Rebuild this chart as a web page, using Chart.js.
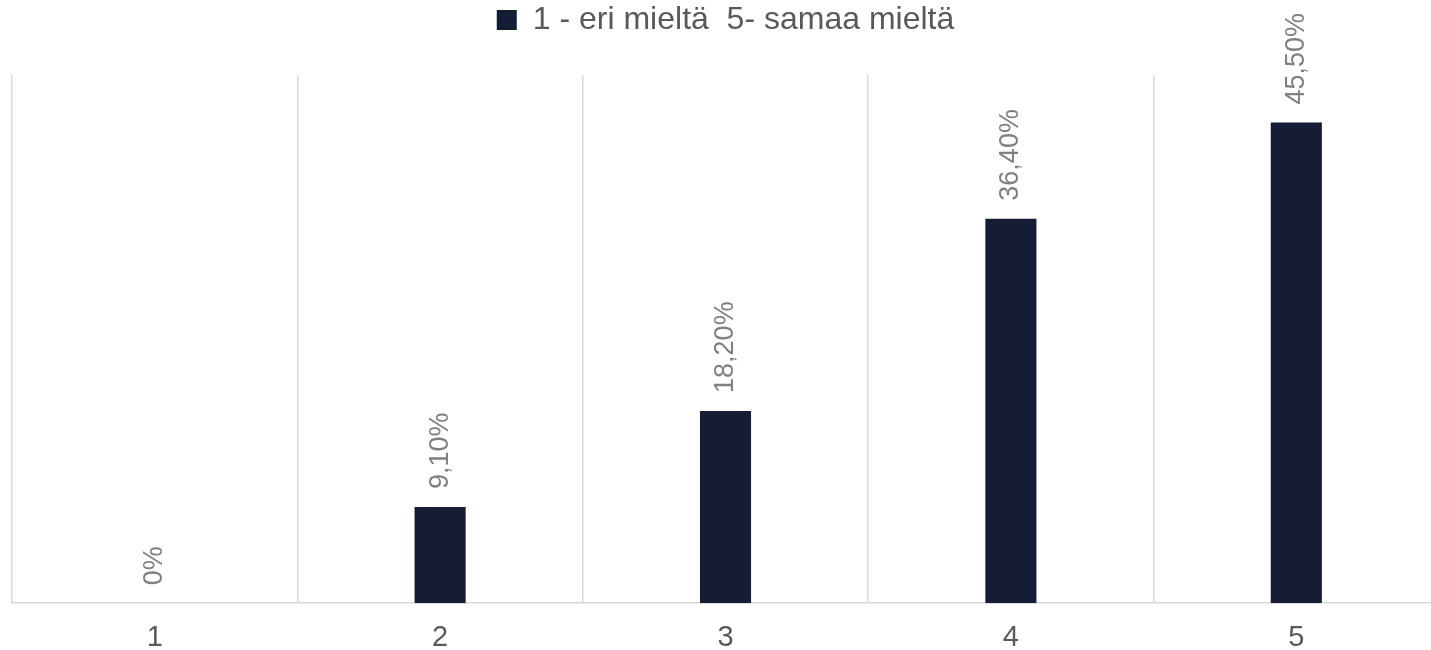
<!DOCTYPE html>
<html>
<head>
<meta charset="utf-8">
<script src="https://cdn.jsdelivr.net/npm/chart.js@4"></script>
<style>
  html, body { margin: 0; padding: 0; background: #fff; overflow: hidden; }
  canvas { display: block; }
</style>
</head>
<body>
<canvas id="agreeChart" width="1445" height="674"></canvas>
<script>
// Data
const categories = ["1", "2", "3", "4", "5"];
const shares = [0, 9.1, 18.2, 36.4, 45.5];
const shareLabels = ["0%", "9,10%", "18,20%", "36,40%", "45,50%"];
const seriesName = "1 - eri mieltä  5- samaa mieltä";

const FONT = "'Liberation Sans', Arial, sans-serif";

// rotated value labels above bars
const barLabels = {
  id: "barLabels",
  afterDatasetsDraw(chart) {
    const c = chart.ctx;
    const meta = chart.getDatasetMeta(0);
    c.save();
    c.font = "27px " + FONT;
    c.fillStyle = "#808080";
    c.textAlign = "left";
    c.textBaseline = "middle";
    meta.data.forEach((bar, i) => {
      c.save();
      c.translate(bar.x, bar.y - 18);
      c.rotate(-Math.PI / 2);
      c.fillText(shareLabels[i], 0, 0);
      c.restore();
    });
    c.restore();
  }
};

// extra room under the legend
const legendGap = {
  id: "legendGap",
  beforeInit(chart) {
    const fit = chart.legend.fit;
    chart.legend.fit = function () {
      fit.bind(chart.legend)();
      this.height += 29;
    };
  }
};

new Chart(document.getElementById("agreeChart"), {
  type: "bar",
  data: {
    labels: categories,
    datasets: [{
      label: seriesName,
      data: shares,
      backgroundColor: "#141c36",
      categoryPercentage: 1,
      barPercentage: 0.179
    }]
  },
  options: {
    responsive: false,
    devicePixelRatio: 1,
    animation: false,
    layout: { padding: { left: 12, right: 6, top: 0, bottom: 2 } },
    plugins: {
      legend: {
        position: "top",
        labels: {
          boxWidth: 20,
          boxHeight: 20,
          padding: 4,
          color: "#595959",
          font: { family: FONT, size: 32 }
        }
      },
      tooltip: { enabled: false }
    },
    scales: {
      x: {
        grid: { color: "#d9d9d9", lineWidth: 1.5, drawTicks: false },
        border: { color: "#d9d9d9", width: 1.5 },
        ticks: { color: "#595959", padding: 17, font: { family: FONT, size: 29 } }
      },
      y: {
        display: false,
        min: 0,
        max: 50
      }
    }
  },
  plugins: [barLabels, legendGap]
});
</script>
</body>
</html>
